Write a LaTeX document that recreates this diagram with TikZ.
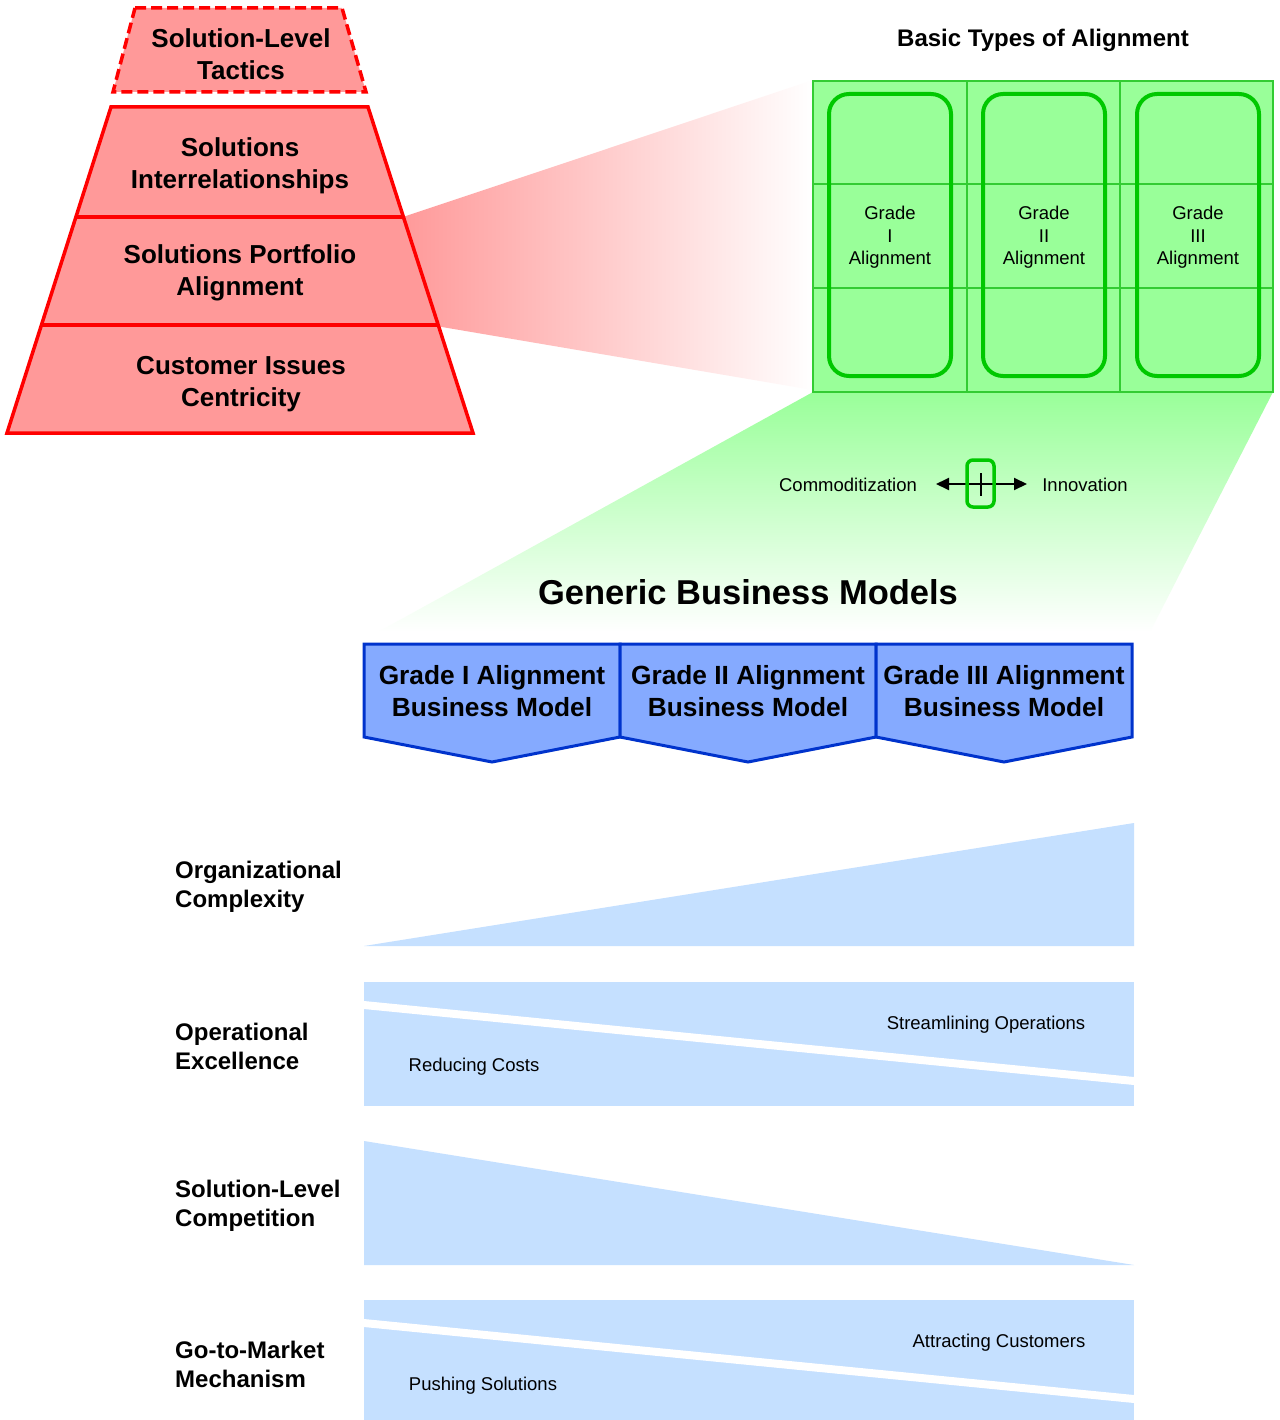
\documentclass[tikz,border=0pt]{standalone}
\usepackage{fontspec}
\setmainfont{Liberation Sans}
\usetikzlibrary{arrows.meta}
\definecolor{pyrfill}{HTML}{FF9999}
\definecolor{pyrline}{HTML}{FF0000}
\definecolor{grfill}{HTML}{99FF99}
\definecolor{grgrid}{HTML}{33CC33}
\definecolor{grline}{HTML}{00C800}
\definecolor{chfill}{HTML}{85AAFF}
\definecolor{chline}{HTML}{0033CC}
\definecolor{rowfill}{HTML}{C5E0FF}
\begin{document}
\begin{tikzpicture}[x=1pt,y=-1pt,
  pyr/.style={fill=pyrfill,draw=pyrline,line width=3.5pt,line join=miter},
  pyrtxt/.style={font=\bfseries\fontsize{26}{32}\selectfont,align=center,inner sep=0pt},
  gridtxt/.style={font=\fontsize{18.5}{22.5}\selectfont,align=center,inner sep=0pt},
  smalltxt/.style={font=\fontsize{18.5}{22}\selectfont,inner sep=0pt},
  rowlabel/.style={font=\bfseries\fontsize{24}{29}\selectfont,align=left,inner sep=0pt,anchor=west},
  chev/.style={fill=chfill,draw=chline,line width=3pt,line join=miter},
  chevtxt/.style={font=\bfseries\fontsize{26.3}{32}\selectfont,align=center,inner sep=0pt},
  gradebox/.style={draw=grline,line width=4pt,rounded corners=20pt},
  rowshape/.style={fill=rowfill,draw=none}]
\useasboundingbox (0,0) rectangle (1279,1420);
\fill[white] (0,0) rectangle (1279,1420);

% red fan
\shade[left color=pyrfill,right color=white,draw=none]
  (400,218) -- (813,80) -- (813,390) -- (436,326) -- cycle;

% green fan
\shade[top color=grfill,bottom color=white,draw=none]
  (813,392) -- (1273,392) -- (1150,632) -- (378,632) -- cycle;

% pyramid
\path[pyr,dash pattern=on 11pt off 5pt] (135,8) -- (342,8) -- (366,92) -- (113,92) -- cycle;
\path[pyr] (111,107) -- (368,107) -- (473,433) -- (7,433) -- cycle;
\draw[pyrline,line width=3.5pt] (76,217) -- (403,217);
\draw[pyrline,line width=3.5pt] (41,325) -- (438,325);
\node[pyrtxt] (tac) at (241,54) {Solution-Level\\Tactics};
\node[pyrtxt] (inter) at (240,166) {Solutions\\Interrelationships};
\node[pyrtxt] (port) at (240,273) {Solutions Portfolio\\Alignment};
\node[pyrtxt] (cust) at (241,384) {Customer Issues\\Centricity};

% basic types
\node[font=\bfseries\fontsize{24}{28}\selectfont,inner sep=0pt] (basic) at (1043,40) {Basic Types of Alignment};
\draw[fill=grfill,draw=grgrid,line width=1.5pt] (813,81) rectangle (1273,392);
\draw[grgrid,line width=1.5pt] (967,81) -- (967,392) (1120,81) -- (1120,392)
  (813,184) -- (1273,184) (813,288) -- (1273,288);
\draw[gradebox] (829,94) rectangle (951,376);
\draw[gradebox] (983,94) rectangle (1105,376);
\draw[gradebox] (1137,94) rectangle (1259,376);
\node[gridtxt] (g1) at (890,237.5) {Grade\\I\\Alignment};
\node[gridtxt] (g2) at (1044,237.5) {Grade\\II\\Alignment};
\node[gridtxt] (g3) at (1198,237.5) {Grade\\III\\Alignment};

% commoditization axis
\node[smalltxt] (comm) at (848,485) {Commoditization};
\node[smalltxt] (innov) at (1085,485) {Innovation};
\coordinate (al) at (936,484);
\coordinate (ar) at (1027,484);
\draw[line width=2pt,{Triangle[length=13pt,width=12pt]}-{Triangle[length=13pt,width=12pt]}] (al) -- (ar);
\draw[grline,line width=3.5pt,rounded corners=6pt] (967,460) rectangle (994,507);
\draw[line width=1.5pt] (981,473) -- (981,496);

% generic business models
\node[font=\bfseries\fontsize{34.5}{38}\selectfont,inner sep=0pt] (gbm) at (748,592) {Generic Business Models};
\path[chev] (364,644) -- (620,644) -- (620,737) -- (492,762) -- (364,737) -- cycle;
\path[chev] (620,644) -- (876,644) -- (876,737) -- (748,762) -- (620,737) -- cycle;
\path[chev] (876,644) -- (1132,644) -- (1132,737) -- (1004,762) -- (876,737) -- cycle;
\node[chevtxt] (c1) at (492,691.5) {Grade I Alignment\\Business Model};
\node[chevtxt] (c2) at (748,691.5) {Grade II Alignment\\Business Model};
\node[chevtxt] (c3) at (1004,691.5) {Grade III Alignment\\Business Model};

% rows
\path[rowshape] (364,946) -- (1134,823) -- (1134,946) -- cycle;
\node[rowlabel] (r1) at (175,886.5) {Organizational\\Complexity};

\path[rowshape] (364,982) rectangle (1134,1106);
\fill[white] (364,1001) -- (1134,1077) -- (1134,1085) -- (364,1009) -- cycle;
\node[rowlabel] (r2) at (175,1046.5) {Operational\\Excellence};
\node[smalltxt] (stream) at (986,1024.5) {Streamlining Operations};
\node[smalltxt] (reduce) at (474,1066.5) {Reducing Costs};

\path[rowshape] (364,1141) -- (364,1265) -- (1134,1265) -- cycle;
\node[rowlabel] (r3) at (175,1205.5) {Solution-Level\\Competition};

\path[rowshape] (364,1300) rectangle (1134,1420);
\fill[white] (364,1319) -- (1134,1395) -- (1134,1403) -- (364,1327) -- cycle;
\node[rowlabel] (r4) at (175,1364.5) {Go-to-Market\\Mechanism};
\node[smalltxt] (attr) at (999,1342.5) {Attracting Customers};
\node[smalltxt] (push) at (483,1385.5) {Pushing Solutions};
\end{tikzpicture}
\end{document}
